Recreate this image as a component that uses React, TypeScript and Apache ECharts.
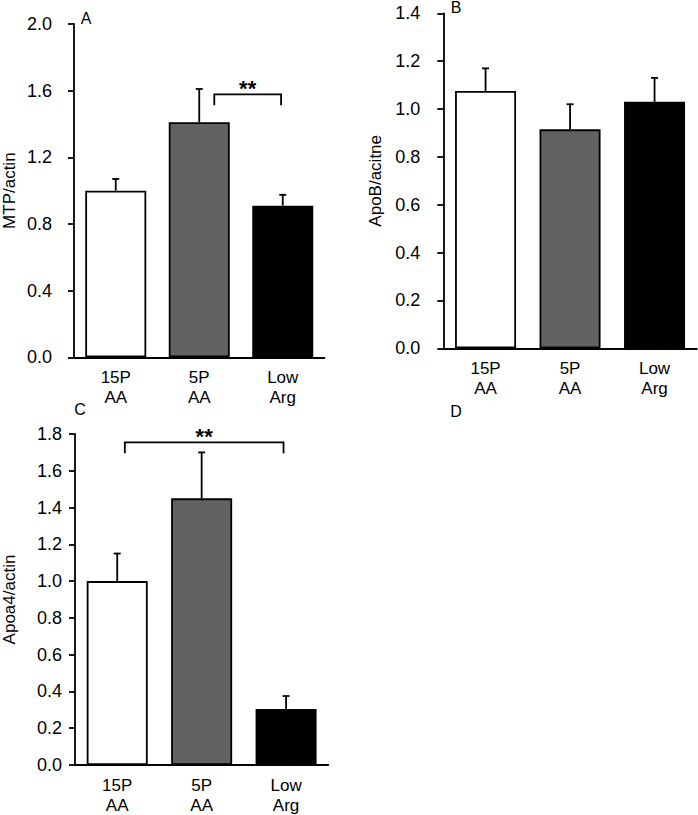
import React, { useEffect, useRef } from 'react';
import * as echarts from 'echarts';

const categories = ['15P\nAA', '5P\nAA', 'Low\nArg'];
const mtpMean = [1.0, 1.41, 0.91];
const mtpUpper = [1.07, 1.61, 0.975];
const apobMean = [1.075, 0.915, 1.03];
const apobUpper = [1.17, 1.02, 1.13];
const apoa4Mean = [1.0, 1.45, 0.305];
const apoa4Upper = [1.15, 1.7, 0.375];
const barColors = ['#ffffff', '#626262', '#000000'];
const yNames = ['MTP/actin', 'ApoB/acitne', 'Apoa4/actin'];
const yMax = [2.0, 1.4, 1.8];
const yInterval = [0.4, 0.2, 0.2];
// significance brackets: [from category position, to category position, y value]
const sigA = [[1.18, 1.98, 1.578]];
const sigC = [[0.09, 1.97, 1.755]];
const panelLetters = ['A', 'B', 'C', 'D'];

const FONT = 'Liberation Sans, Arial, sans-serif';

export default function App() {
  const ref = useRef<HTMLDivElement>(null);
  useEffect(() => {
    const chart = echarts.init(ref.current!, null, { renderer: 'svg' });

    const grids = [
      { left: 70.7, top: 24, width: 253.8, height: 333.3 },
      { left: 443.3, top: 13.3, width: 253.5, height: 335 },
      { left: 74.5, top: 434, width: 253.8, height: 334.3 },
    ];
    const labelMargins = [22, 23, 13];
    const nameGaps = [56, 59, 57];
    const means = [mtpMean, apobMean, apoa4Mean];
    const uppers = [mtpUpper, apobUpper, apoa4Upper];
    const sigs = [sigA, [], sigC];

    const xAxis = grids.map((_, i) => ({
      type: 'category',
      gridIndex: i,
      data: categories,
      axisLine: { lineStyle: { color: '#000', width: 1.8 } },
      axisTick: { show: false },
      axisLabel: {
        color: '#000', fontSize: 17, fontFamily: FONT, lineHeight: 20,
        margin: 10, interval: 0,
      },
    }));
    const yAxis = grids.map((_, i) => ({
      type: 'value',
      gridIndex: i,
      min: 0,
      max: yMax[i],
      interval: yInterval[i],
      name: yNames[i],
      nameLocation: 'middle',
      nameGap: nameGaps[i],
      nameTextStyle: { color: '#000', fontSize: 17, fontFamily: FONT },
      axisLine: { show: true, lineStyle: { color: '#000', width: 1.8 } },
      axisTick: { show: true, length: 6, lineStyle: { color: '#000', width: 1.8 } },
      splitLine: { show: false },
      axisLabel: {
        color: '#000', fontSize: 18, fontFamily: FONT, margin: labelMargins[i],
        formatter: (v: number) => v.toFixed(1),
      },
    }));

    const series: any[] = [];
    grids.forEach((_, g) => {
      series.push({
        type: 'bar',
        xAxisIndex: g,
        yAxisIndex: g,
        barWidth: 61,
        data: means[g].map((v, i) => ({
          value: v,
          itemStyle: { color: barColors[i], borderColor: '#000', borderWidth: 1.8 },
        })),
      });
      series.push({
        type: 'custom',
        xAxisIndex: g,
        yAxisIndex: g,
        z: 3,
        encode: { x: 0, y: [1, 2] },
        data: means[g].map((v, i) => [i, v, uppers[g][i]]),
        renderItem: (params: any, api: any) => {
          const i = api.value(0);
          const p0 = api.coord([i, api.value(1)]);
          const p1 = api.coord([i, api.value(2)]);
          const st = { stroke: '#000', lineWidth: 1.8 };
          return {
            type: 'group',
            children: [
              { type: 'line', shape: { x1: p0[0], y1: p0[1], x2: p1[0], y2: p1[1] }, style: st },
              { type: 'line', shape: { x1: p1[0] - 3.5, y1: p1[1], x2: p1[0] + 3.5, y2: p1[1] }, style: st },
            ],
          };
        },
      });
      const sig = sigs[g];
      if (sig.length) {
        series.push({
          type: 'custom',
          xAxisIndex: g,
          yAxisIndex: g,
          z: 4,
          data: sig.map((s) => [0, s[2]]),
          renderItem: (params: any, api: any) => {
            const s = sig[params.dataIndex];
            const c0 = api.coord([0, s[2]]);
            const band = api.size([1, 0])[0];
            const x1 = c0[0] + s[0] * band;
            const x2 = c0[0] + s[1] * band;
            const y = c0[1];
            const drop = 11;
            const st = { stroke: '#000', lineWidth: 1.8, fill: 'none' };
            return {
              type: 'group',
              children: [
                {
                  type: 'polyline',
                  shape: { points: [[x1, y + drop], [x1, y], [x2, y], [x2, y + drop]] },
                  style: st,
                },
                {
                  type: 'text',
                  x: (x1 + x2) / 2,
                  y: y - 5.5,
                  style: {
                    text: '**', fill: '#000', fontSize: 22, fontWeight: 'bold',
                    fontFamily: FONT, align: 'center', verticalAlign: 'middle',
                  },
                },
              ],
            };
          },
        });
      }
    });

    const letterPos = [[86, 18], [456, 7], [80, 409], [456, 411]];
    const graphic = panelLetters.map((t, i) => ({
      type: 'text',
      x: letterPos[i][0],
      y: letterPos[i][1],
      style: {
        text: t, fill: '#000', fontSize: 16, fontFamily: FONT,
        align: 'center', verticalAlign: 'middle',
      },
    }));

    chart.setOption({
      animation: false,
      backgroundColor: '#ffffff',
      grid: grids,
      xAxis,
      yAxis,
      series,
      graphic,
    } as any);
    return () => chart.dispose();
  }, []);
  return (
    <div
      ref={ref}
      style={{ position: 'absolute', left: 0, top: 0, width: 698, height: 815 }}
    />
  );
}
